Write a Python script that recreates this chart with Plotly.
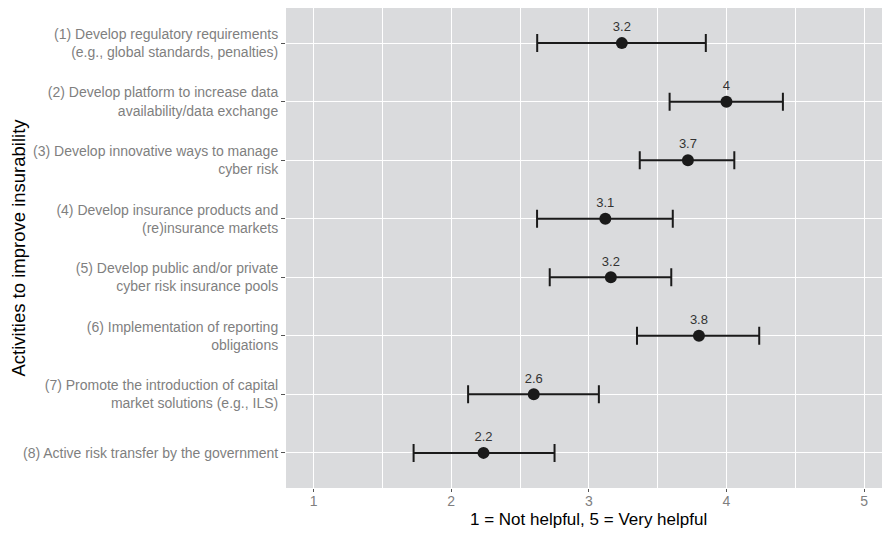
import plotly.graph_objects as go

activities = [
    "(1) Develop regulatory requirements<br>(e.g., global standards, penalties)",
    "(2) Develop platform to increase data<br>availability/data exchange",
    "(3) Develop innovative ways to manage<br>cyber risk",
    "(4) Develop insurance products and<br>(re)insurance markets",
    "(5) Develop public and/or private<br>cyber risk insurance pools",
    "(6) Implementation of reporting<br>obligations",
    "(7) Promote the introduction of capital<br>market solutions (e.g., ILS)",
    "(8) Active risk transfer by the government",
]
means = [3.24, 4.00, 3.72, 3.12, 3.16, 3.80, 2.60, 2.235]
lower = [2.625, 3.587, 3.370, 2.624, 2.716, 3.350, 2.123, 1.727]
upper = [3.850, 4.410, 4.057, 3.610, 3.599, 4.238, 3.073, 2.751]
mean_labels = ["3.2", "4", "3.7", "3.1", "3.2", "3.8", "2.6", "2.2"]
x_ticks = [1, 2, 3, 4, 5]
x_title = "1 = Not helpful, 5 = Very helpful"
y_title = "Activities to improve insurability"

err_plus = [u - m for u, m in zip(upper, means)]
err_minus = [m - l for m, l in zip(means, lower)]

FONT = "Liberation Sans, Arial, Helvetica, sans-serif"
B = 40
PLOT_H = 520 - B

fig = go.Figure()
fig.add_trace(go.Scatter(
    x=means, y=activities,
    mode="markers+text",
    text=mean_labels,
    textposition="top center",
    textfont=dict(family=FONT, size=13, color="#333333"),
    marker=dict(size=12, color="#1a1a1a"),
    error_x=dict(type="data", symmetric=False, array=err_plus, arrayminus=err_minus,
                 color="#1a1a1a", thickness=2, width=9),
    cliponaxis=False,
    showlegend=False,
))

# page body has an 8px margin; figure sized so that the page fits the 890x536 window
fig.update_layout(
    width=874, height=520,
    margin=dict(l=278, r=0, t=0, b=B, autoexpand=False),
    paper_bgcolor="white",
    plot_bgcolor="#DADBDD",
    font=dict(family=FONT),
    xaxis=dict(
        automargin=False,
        range=[0.8, 5.13],
        tickvals=x_ticks,
        ticktext=[str(v) for v in x_ticks],
        showgrid=True, gridcolor="white", gridwidth=1.2,
        minor=dict(tickvals=[1.5, 2.5, 3.5, 4.5], showgrid=True, gridcolor="white", gridwidth=0.6),
        zeroline=False, showline=False,
        ticks="outside", ticklen=3, tickcolor="#555555", tickwidth=1,
        ticklabelstandoff=-3,
        tickfont=dict(family=FONT, size=14, color="#7f7f7f"),
    ),
    yaxis=dict(
        automargin=False,
        type="category",
        categoryorder="array", categoryarray=activities,
        range=[7.6, -0.6],
        showgrid=True, gridcolor="white", gridwidth=1.2,
        zeroline=False, showline=False,
        ticks="outside", ticklen=4, tickcolor="#555555", tickwidth=1,
        tickfont=dict(family=FONT, size=14, color="#7f7f7f"),
        title=dict(text=y_title,
                   font=dict(family=FONT, size=18.5, color="black"), standoff=4),
    ),
    annotations=[dict(
        text=x_title, xref="x", x=3, yref="paper", y=-B / PLOT_H,
        xanchor="center", yanchor="bottom", showarrow=False, borderpad=0, yshift=-2,
        font=dict(family=FONT, size=17, color="black"),
    )],
)

fig.write_html("out.html")
